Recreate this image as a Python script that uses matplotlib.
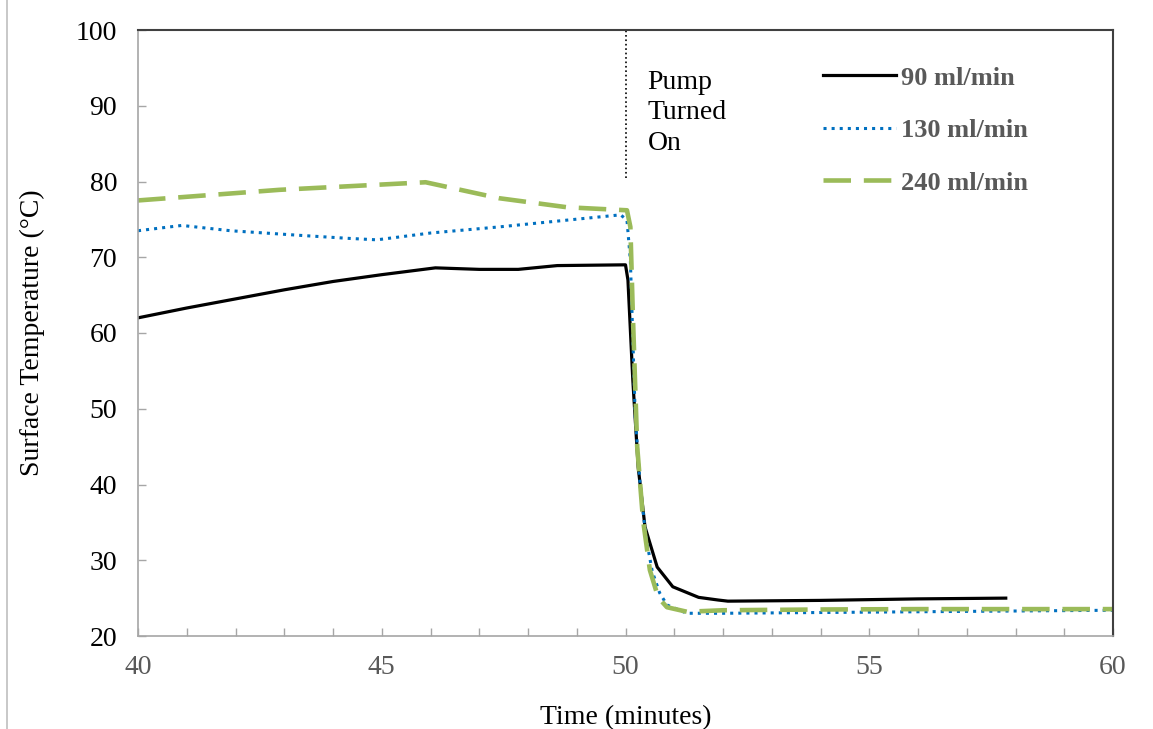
import numpy as np
import matplotlib
matplotlib.use("Agg")
import matplotlib.pyplot as plt
from matplotlib.lines import Line2D
from matplotlib.ticker import MultipleLocator

plt.rcParams["font.family"] = ["Liberation Serif", "DejaVu Serif"]

# surface temperature after the pump is switched on, three flow rates
t_90 = [40, 41, 42, 43, 44, 45, 46.1, 47.0, 47.8, 48.6, 50.0, 50.05, 50.15,
        50.26, 50.4, 50.65, 50.97, 51.5, 51.9, 52.1, 54, 56, 57.8]
T_90 = [62.0, 63.3, 64.5, 65.7, 66.8, 67.7, 68.6, 68.4, 68.4, 68.9, 69.0, 67.0, 53.8,
        42.3, 34.4, 29.1, 26.5, 25.1, 24.75, 24.6, 24.7, 24.9, 25.0]

t_130 = [40, 40.9, 41.9, 43.3, 44.3, 44.9, 46.0, 47.4, 48.8, 49.9, 50.03, 50.1, 50.2,
         50.3, 50.42, 50.55, 50.7, 50.85, 51.26, 52, 54, 56, 58, 60]
T_130 = [73.5, 74.2, 73.5, 72.9, 72.5, 72.3, 73.2, 74.0, 74.9, 75.6, 74.9, 69.6, 49.0,
         40.0, 33.0, 28.5, 25.7, 24.1, 23.0, 23.0, 23.1, 23.2, 23.3, 23.4]

t_240 = [40, 42.9, 45.9, 47.4, 48.8, 50.03, 50.1, 50.15, 50.24, 50.36, 50.5, 50.67,
         50.85, 51.26, 52, 54, 56, 58, 60]
T_240 = [77.5, 78.9, 79.9, 77.8, 76.6, 76.2, 74.0, 62.6, 45.0, 35.3, 28.7, 25.1,
         23.8, 23.2, 23.4, 23.5, 23.55, 23.55, 23.55]

labels = ["90 ml/min", "130 ml/min", "240 ml/min"]
pump_on = 50

fig = plt.figure(figsize=(11.53, 7.29), dpi=100)
ax = fig.add_axes([138 / 1153, 1 - 636 / 729, 975 / 1153, 606 / 729])

ax.plot(t_90, T_90, color="black", lw=2.3, label=labels[0])
ax.plot(t_130, T_130, color="#0070C0", lw=2.2, ls=":", label=labels[1])
ax.plot(t_240, T_240, color="#9BBB59", lw=3.3, ls=(0, (6, 2.8)), label=labels[2])

# marker for the moment the pump starts
ax.plot([pump_on, pump_on], [80.5, 100], color="black", ls=":", lw=1.2)
ax.text(50.45, 94.75, "Pump\nTurned\nOn", fontsize=20, va="top", ha="left",
        linespacing=1.3)

ax.set_xlim(40, 60)
ax.set_ylim(20, 100)
ax.xaxis.set_major_locator(MultipleLocator(5))
ax.xaxis.set_minor_locator(MultipleLocator(1))
ax.yaxis.set_major_locator(MultipleLocator(10))
ax.tick_params(axis="both", which="both", direction="in", length=6,
               color="#a6a6a6", width=1)
ax.tick_params(axis="x", labelsize=20, labelcolor="#595959", pad=14)
ax.tick_params(axis="y", labelsize=20, labelcolor="black", pad=15)

for side in ["left", "bottom"]:
    ax.spines[side].set_color("#a6a6a6")
    ax.spines[side].set_linewidth(1.2)
for side in ["top", "right"]:
    ax.spines[side].set_color("#404040")
    ax.spines[side].set_linewidth(1.5)

ax.set_xlabel("Time (minutes)", fontsize=20, labelpad=18)
ax.set_ylabel("Surface Temperature (°C)", fontsize=20, labelpad=22)

leg = ax.legend(loc="upper left", bbox_to_anchor=(0.7026, 0.9405), frameon=False,
                borderpad=0, borderaxespad=0, handlelength=2.75, handletextpad=0.2,
                labelspacing=1.1, prop={"weight": "bold", "size": 19})
for txt in leg.get_texts():
    txt.set_color("#595959")

fig.add_artist(Line2D([7 / 1153, 7 / 1153], [0, 1], color="#bfbfbf", lw=1.2))

fig.savefig("out.png", dpi=100)
